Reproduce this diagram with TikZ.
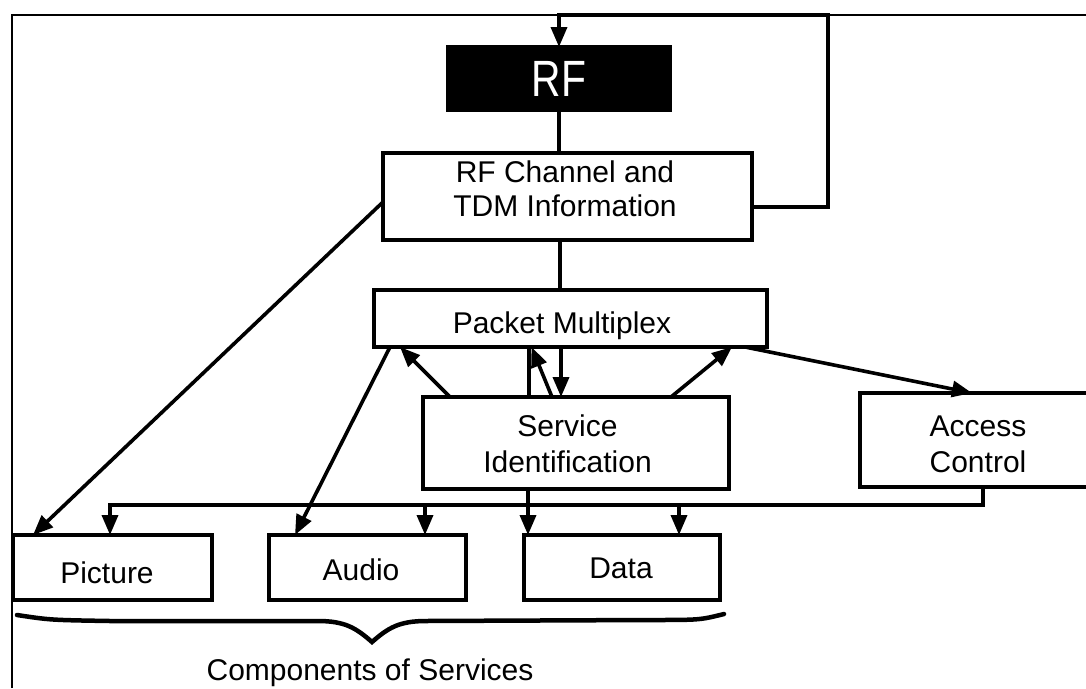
\documentclass[tikz,border=0pt]{standalone}
\usepackage{fontspec}
\setmainfont{Liberation Sans}
\usetikzlibrary{arrows.meta}
\begin{document}
\begin{tikzpicture}[x=1pt,y=-1pt,
  box/.style={draw, line width=3.2pt, inner sep=0pt, outer sep=0pt},
  lbl/.style={font=\fontsize{30}{36}\selectfont, align=center, inner sep=0pt},
  wire/.style={line width=3.2pt},
  arr/.style={line width=3.6pt, -{Triangle[length=20pt,width=16pt]}},
]
\useasboundingbox (0,0) rectangle (1086,688);

% outer frame (left and top edges)
\draw[line width=2.6pt] (12,688) -- (12,15) -- (1086,15);

% blocks
\node[box, fill=black, text=white, minimum width=222pt, minimum height=63pt,
      font=\fontsize{51}{51}\selectfont] (rf) at (559,78.5) {\scalebox{0.8}[1]{RF}};
\node[box, minimum width=369pt, minimum height=87pt] (rfch) at (567.5,196.5) {};
\node[box, minimum width=393pt, minimum height=57pt] (pm) at (570.5,318.5) {};
\node[box, minimum width=306pt, minimum height=92pt] (si) at (576,443) {};
\node[box, minimum width=236pt, minimum height=94pt] (ac) at (978,440) {};
\node[box, minimum width=199pt, minimum height=65pt] (pic) at (112.5,567.5) {};
\node[box, minimum width=197pt, minimum height=65pt] (aud) at (367.5,567.5) {};
\node[box, minimum width=196pt, minimum height=65pt] (data) at (622,567.5) {};

% block texts
\node[lbl, font=\fontsize{30}{34}\selectfont] (rfch-t) at (565,189) {RF Channel and\\TDM Information};
\node[lbl, anchor=base] (pm-t) at (562,333) {Packet Multiplex};
\node[lbl] (si-t) at (567.5,444) {Service\\Identification};
\node[lbl] (ac-t) at (978,444) {Access\\Control};
\node[lbl, anchor=base] (pic-t) at (107,583) {Picture};
\node[lbl, anchor=base] (aud-t) at (361,580) {Audio};
\node[lbl, anchor=base] (data-t) at (621,578) {Data};
\node[lbl, anchor=base] (comp-t) at (370,680) {Components of Services};

% feedback loop back to RF
\coordinate (loop) at (828,15);
\draw[arr] ([yshift=-10.5pt]rfch.east) -| (loop) -| (rf.north);

% main chain
\draw[wire] (rf.south) -- ([xshift=-8.5pt]rfch.north);
\draw[wire] ([xshift=-7.5pt]rfch.south) -- ([xshift=-10.5pt]pm.north);

% direct paths to components
\draw[arr] ([yshift=-5.5pt]rfch.west) -- ([xshift=20pt]pic.north west);
\draw[arr] ([xshift=16pt]pm.south west) -- ([xshift=26pt]aud.north west);

% service identification <-> packet multiplex
\draw[arr] ([xshift=27pt]si.north west) -- ([xshift=26pt]pm.south west);
\draw[wire] ([xshift=-47pt]si.north) -- ([xshift=-41.5pt]pm.south);
\draw[arr] ([xshift=-24pt]si.north) -- ([xshift=-39pt]pm.south);
\draw[arr] ([xshift=-9.5pt]pm.south) -- ([xshift=-15pt]si.north);
\draw[arr] ([xshift=95pt]si.north) -- ([xshift=161.5pt]pm.south);

% packet multiplex to access control
\draw[arr] ([xshift=174.5pt]pm.south) -- ([xshift=-6pt]ac.north);

% access control bus to components
\coordinate (bus) at (110,505);
\draw[arr] ([xshift=5pt]ac.south) |- (bus) -- ([xshift=-2.5pt]pic.north);
\draw[arr] ([shift={(57.5pt,30pt)}]aud.north) -- ([xshift=57.5pt]aud.north);
\draw[arr] ([shift={(57pt,30pt)}]data.north) -- ([xshift=57pt]data.north);
\draw[arr] ([xshift=-48pt]si.south) -- ([xshift=-94pt]data.north);

% brace under the components
\draw[line width=4.5pt, line cap=round]
  (17,615) .. controls (50,620) .. (110,621) -- (318,621)
  .. controls (345,621) and (356,628) .. (372,642)
  .. controls (388,628) and (399,621) .. (426,621) -- (650,620)
  .. controls (700,620) .. (724,614);
\end{tikzpicture}
\end{document}
